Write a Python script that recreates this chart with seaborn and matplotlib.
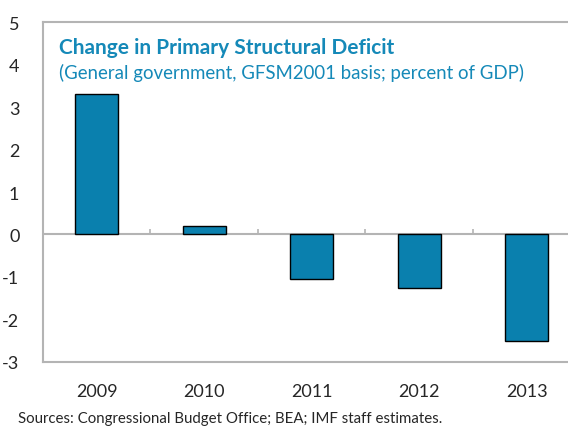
import seaborn as sns
import matplotlib.pyplot as plt
import pandas as pd

years = ['2009', '2010', '2011', '2012', '2013']
change = [3.3, 0.2, -1.05, -1.25, -2.5]
y_ticks = [-3, -2, -1, 0, 1, 2, 3, 4, 5]

title = 'Change in Primary Structural Deficit'
subtitle = '(General government, GFSM2001 basis; percent of GDP)'
source = 'Sources: Congressional Budget Office; BEA; IMF staff estimates.'

sns.set_style('white')
plt.rcParams['font.family'] = ['Lato', 'DejaVu Sans']
plt.rcParams['axes.unicode_minus'] = False

df = pd.DataFrame({'year': years, 'change': change})

fig = plt.figure(figsize=(5.68, 4.27), dpi=100)
ax = fig.add_axes([0.0757, 0.150, 0.946, 0.796])

sns.barplot(data=df, x='year', y='change', color='#0a80ae', saturation=1,
            edgecolor='black', linewidth=1, width=0.4, ax=ax, zorder=3)

grey = '#b4b4b4'
ax.set_xlim(-0.5, len(years) - 0.5)
ax.set_ylim(y_ticks[0], y_ticks[-1])
ax.set_yticks(y_ticks)
ax.axhline(0, color=grey, lw=1.5, zorder=2)
ax.vlines([i + 0.5 for i in range(len(years) - 1)], 0, 0.14, color=grey, lw=1.2, zorder=2)

for s in ax.spines.values():
    s.set_color(grey)
    s.set_linewidth(1.5)

ax.tick_params(axis='y', direction='in', length=5, color=grey, pad=17, labelsize=13)
ax.tick_params(axis='x', length=0, pad=15, labelsize=13)
ax.set_xlabel('')
ax.set_ylabel('')

ax.text(0.03, 0.927, title, transform=ax.transAxes, fontsize=15, fontweight='bold',
        color='#1589b8', va='center')
ax.text(0.03, 0.853, subtitle, transform=ax.transAxes, fontsize=13.4,
        color='#1589b8', va='center')

fig.text(18 / 568, 0.002, source, fontsize=10.8, va='bottom')

fig.savefig('out.png', dpi=100)
